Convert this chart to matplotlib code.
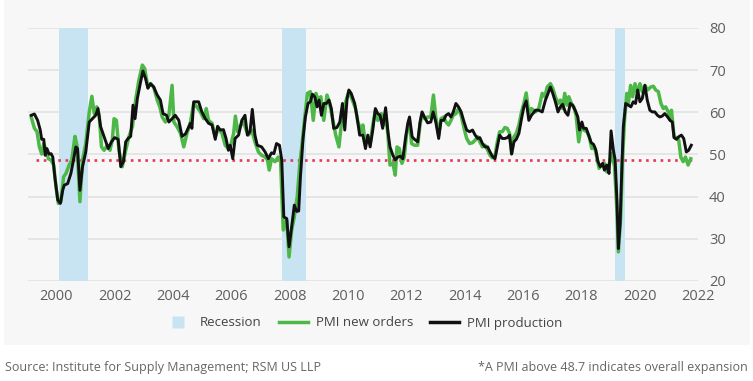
import matplotlib
matplotlib.use('Agg')
from matplotlib import pyplot as plt
from matplotlib.lines import Line2D
from matplotlib.patches import Rectangle

plt.rcParams['font.family'] = ['Open Sans', 'DejaVu Sans']

# values (decimal year, index value)
orders_year = [
    1999.14, 1999.25, 1999.34, 1999.42, 1999.50, 1999.57, 1999.65, 1999.73, 1999.82, 1999.91,
    1999.99, 2000.07, 2000.16, 2000.25, 2000.33, 2000.44, 2000.53, 2000.64, 2000.71, 2000.81,
    2000.90, 2001.01, 2001.13, 2001.22, 2001.30, 2001.39, 2001.47, 2001.55, 2001.64, 2001.75,
    2001.84, 2001.92, 2001.98, 2002.06, 2002.15, 2002.26, 2002.38, 2002.49, 2002.61, 2002.72,
    2002.83, 2002.95, 2003.03, 2003.14, 2003.23, 2003.34, 2003.46, 2003.55, 2003.63, 2003.74,
    2003.86, 2003.97, 2004.03, 2004.14, 2004.26, 2004.37, 2004.48, 2004.60,
    2004.71, 2004.82, 2004.94, 2005.05, 2005.14, 2005.22, 2005.34, 2005.45, 2005.56, 2005.68,
    2005.79, 2005.90, 2005.98, 2006.08, 2006.14, 2006.22, 2006.33, 2006.42, 2006.51, 2006.59,
    2006.70, 2006.81, 2006.93, 2007.04, 2007.16, 2007.24, 2007.30, 2007.38, 2007.50, 2007.61,
    2007.69, 2007.78, 2007.90, 2007.98, 2008.07, 2008.16, 2008.26, 2008.35, 2008.44, 2008.52,
    2008.61, 2008.71, 2008.81, 2008.90, 2008.98, 2009.07, 2009.17, 2009.28, 2009.37, 2009.47,
    2009.58, 2009.69, 2009.77, 2009.85, 2009.94, 2010.03, 2010.15, 2010.26, 2010.34, 2010.46,
    2010.51, 2010.60, 2010.68, 2010.76, 2010.85, 2010.94, 2011.02, 2011.14, 2011.22, 2011.29,
    2011.37, 2011.44, 2011.54, 2011.62, 2011.68, 2011.76, 2011.85, 2011.93, 2012.01, 2012.11,
    2012.18, 2012.28, 2012.39, 2012.47, 2012.54, 2012.63, 2012.73, 2012.84, 2012.93, 2013.01,
    2013.11, 2013.19, 2013.28, 2013.36, 2013.45, 2013.53, 2013.61, 2013.70, 2013.79, 2013.88,
    2013.98, 2014.07, 2014.17, 2014.27, 2014.36, 2014.45, 2014.52, 2014.61, 2014.70, 2014.79,
    2014.87, 2014.95, 2015.04, 2015.12, 2015.20, 2015.29, 2015.38, 2015.46, 2015.54, 2015.61,
    2015.69, 2015.77, 2015.86, 2015.95, 2016.03, 2016.11, 2016.20, 2016.29,
    2016.43, 2016.54, 2016.66, 2016.75, 2016.83, 2016.94, 2017.02, 2017.11, 2017.20, 2017.28,
    2017.36, 2017.43, 2017.51, 2017.57, 2017.66, 2017.74, 2017.82, 2017.91, 2018.00, 2018.08,
    2018.19, 2018.27, 2018.36, 2018.45, 2018.53, 2018.61, 2018.70, 2018.79, 2018.87, 2018.95,
    2019.04, 2019.14, 2019.22, 2019.27, 2019.35, 2019.41, 2019.48, 2019.56, 2019.61, 2019.69,
    2019.76, 2019.84, 2019.93, 2020.01, 2020.09, 2020.18, 2020.27, 2020.38, 2020.47, 2020.55,
    2020.64, 2020.73, 2020.81, 2020.89, 2020.98, 2021.05, 2021.09, 2021.18, 2021.26, 2021.34,
    2021.41, 2021.49, 2021.57, 2021.66, 2021.75,
]
new_orders = [
    58.9, 56.2, 55.4, 51.8, 50.1, 52.6, 51.0, 49.0, 48.7, 47.5,
    42.3, 38.4, 38.8, 44.7, 45.5, 47.5, 48.7, 54.3, 52.2, 38.8,
    48.7, 52.6, 60.1, 63.8, 59.7, 61.3, 59.3, 51.8, 51.0, 52.2,
    51.0, 53.4, 58.5, 58.1, 51.0, 47.1, 51.0, 54.2, 56.6, 62.9,
    67.6, 71.2, 70.4, 66.0, 66.8, 66.0, 62.9, 61.3, 58.9, 57.7,
    59.3, 66.4, 57.7, 56.6, 55.0, 51.8, 55.0, 57.7,
    62.1, 61.3, 60.1, 58.5, 60.9, 58.1, 57.4, 54.2, 56.2, 55.0,
    52.2, 51.4, 52.2, 55.0, 59.1, 55.4, 57.0, 57.7, 55.8, 54.6,
    55.8, 53.0, 50.6, 49.8, 49.4, 48.7, 46.3, 49.0, 48.3, 49.4,
    48.3, 32.1, 34.4, 25.7, 32.1, 35.2, 40.0, 47.9, 53.4, 58.9,
    64.5, 64.9, 58.1, 64.5, 62.9, 63.7, 58.1, 64.1, 62.1, 58.5,
    54.6, 51.8, 57.0, 60.9, 62.9, 64.9, 62.9, 60.9, 57.7, 55.4,
    57.0, 52.6, 54.2, 52.6, 57.0, 60.5, 58.1, 59.7, 57.0, 59.7,
    54.6, 47.5, 47.9, 45.1, 51.8, 51.4, 47.9, 49.4, 55.0, 57.7,
    52.6, 52.2, 52.2, 57.0, 59.7, 58.5, 58.9, 58.9, 64.1, 58.9,
    54.6, 58.5, 58.9, 57.7, 57.0, 58.1, 59.3, 59.7, 60.9, 59.3,
    56.2, 53.8, 52.6, 52.8, 53.4, 54.2, 53.0, 51.8, 52.2, 51.0,
    49.8, 49.2, 49.6, 53.0, 55.4, 55.4, 56.4, 56.2, 55.0, 50.2,
    54.2, 55.0, 57.0, 60.1, 62.1, 64.6, 59.7, 60.9,
    60.1, 60.9, 64.5, 63.7, 66.0, 66.8, 65.7, 63.7, 62.1, 62.9,
    60.9, 64.5, 61.7, 63.7, 62.1, 61.3, 59.3, 53.0, 57.0, 55.8,
    55.4, 54.2, 51.4, 51.8, 49.4, 46.7, 47.5, 47.9, 45.9, 47.5,
    50.2, 47.1, 36.8, 26.9, 35.2, 48.7, 58.1, 64.5, 62.1, 66.4,
    63.7, 66.8, 64.5, 66.8, 64.9, 66.4, 65.3, 66.0, 66.2, 65.3,
    64.9, 62.1, 60.9, 61.3, 60.1, 58.1, 60.5, 54.2, 54.0, 53.4,
    49.4, 48.3, 49.4, 47.5, 49.0,
]

production_year = [
    1999.14, 1999.25, 1999.36, 1999.45, 1999.50, 1999.57, 1999.62, 1999.68, 1999.75, 1999.82,
    1999.88, 1999.95, 2000.05, 2000.14, 2000.22, 2000.27, 2000.39, 2000.50, 2000.59, 2000.67,
    2000.73, 2000.81, 2000.90, 2001.01, 2001.13, 2001.24, 2001.35, 2001.43, 2001.52, 2001.64,
    2001.78, 2001.89, 2002.00, 2002.12, 2002.21, 2002.30, 2002.38, 2002.46, 2002.55, 2002.63,
    2002.70, 2002.78, 2002.89, 2002.97, 2003.06, 2003.14, 2003.23, 2003.34, 2003.46, 2003.57,
    2003.66, 2003.78, 2003.86, 2003.97, 2004.08, 2004.20, 2004.31, 2004.43, 2004.52, 2004.60,
    2004.65,
    2004.71, 2004.88, 2004.99, 2005.11, 2005.22, 2005.34, 2005.45, 2005.53, 2005.62, 2005.73,
    2005.82, 2005.90, 2005.96, 2006.05, 2006.13, 2006.25, 2006.36, 2006.47, 2006.55, 2006.64,
    2006.72, 2006.81, 2006.89, 2007.04, 2007.16, 2007.27, 2007.38, 2007.46, 2007.55, 2007.65,
    2007.73, 2007.80, 2007.90, 2007.98, 2008.07, 2008.16, 2008.24, 2008.31, 2008.37, 2008.46,
    2008.54, 2008.63, 2008.71, 2008.78, 2008.86, 2008.94, 2009.01, 2009.09, 2009.17, 2009.26,
    2009.35, 2009.43, 2009.51, 2009.62, 2009.72, 2009.81, 2009.89, 2009.97, 2010.03, 2010.11,
    2010.23, 2010.31, 2010.40,
    2010.51, 2010.60, 2010.68, 2010.76, 2010.85, 2010.94, 2011.02, 2011.10, 2011.19, 2011.29,
    2011.37, 2011.44, 2011.54, 2011.62, 2011.71, 2011.79, 2011.88, 2011.97, 2012.05, 2012.11,
    2012.20, 2012.28, 2012.39, 2012.47, 2012.54, 2012.62, 2012.73, 2012.84, 2012.92, 2013.01,
    2013.11, 2013.19, 2013.28, 2013.36, 2013.45, 2013.53, 2013.61, 2013.70, 2013.79, 2013.88,
    2013.98, 2014.07, 2014.17, 2014.27, 2014.36, 2014.45, 2014.52, 2014.61, 2014.70, 2014.79,
    2014.87, 2014.95, 2015.04, 2015.12, 2015.20, 2015.29, 2015.38, 2015.46, 2015.54, 2015.61,
    2015.69, 2015.77, 2015.86, 2015.95, 2016.03, 2016.11, 2016.20, 2016.29,
    2016.43, 2016.54, 2016.66, 2016.77, 2016.86, 2016.94, 2017.02, 2017.11, 2017.20, 2017.28,
    2017.36, 2017.45, 2017.54, 2017.62, 2017.70, 2017.79, 2017.88, 2017.94, 2018.02, 2018.08,
    2018.17, 2018.25, 2018.34, 2018.42, 2018.50, 2018.57, 2018.65, 2018.73, 2018.79, 2018.87,
    2018.95, 2019.02, 2019.10, 2019.16, 2019.22, 2019.27, 2019.33, 2019.39, 2019.44, 2019.52,
    2019.61, 2019.70, 2019.78, 2019.86, 2019.93, 2020.01, 2020.09, 2020.18, 2020.26, 2020.35,
    2020.43, 2020.52, 2020.61, 2020.69, 2020.77, 2020.86, 2020.96, 2021.04, 2021.12, 2021.18,
    2021.26, 2021.34, 2021.43, 2021.51, 2021.60, 2021.68, 2021.77,
]
production = [
    59.3, 59.6, 58.1, 55.8, 53.6, 53.6, 49.8, 51.4, 50.1, 50.2,
    49.4, 44.7, 39.2, 38.4, 41.5, 42.7, 43.1, 45.5, 48.7, 51.8,
    51.4, 41.5, 47.1, 50.6, 57.7, 58.5, 59.3, 60.9, 56.6, 54.2,
    51.4, 53.0, 54.0, 53.6, 47.1, 48.3, 53.0, 53.8, 54.3, 61.7,
    58.5, 63.3, 67.2, 69.8, 68.0, 65.7, 66.8, 66.0, 64.1, 62.9,
    59.7, 59.3, 57.7, 58.5, 59.3, 58.1, 54.3, 54.9, 56.2, 57.4,
    56.2,
    62.5, 62.5, 60.1, 58.5, 57.4, 57.0, 53.6, 56.7, 55.8, 55.9,
    53.8, 51.0, 52.2, 49.0, 53.8, 54.6, 58.1, 59.3, 54.6, 55.4,
    60.7, 54.6, 52.2, 51.8, 50.6, 49.0, 50.4, 50.2, 52.6, 52.2,
    48.7, 35.2, 34.8, 28.1, 32.9, 38.0, 36.5, 36.6, 44.7, 53.8,
    58.9, 62.1, 62.5, 64.3, 63.7, 61.3, 62.9, 59.3, 62.1, 62.1,
    62.9, 60.9, 56.2, 56.4, 57.7, 62.1, 55.8, 63.3, 65.3, 64.5,
    62.1, 58.9, 54.6,
    54.6, 51.4, 54.6, 51.8, 55.8, 60.9, 59.7, 59.3, 56.2, 61.1,
    55.4, 51.8, 49.8, 48.7, 49.4, 49.6, 49.0, 53.8, 57.4, 58.9,
    54.2, 53.6, 53.0, 57.7, 60.1, 58.9, 57.5, 57.7, 60.1, 57.7,
    53.8, 58.1, 58.1, 59.3, 59.7, 58.9, 60.1, 62.1, 61.3, 60.1,
    57.7, 55.8, 55.4, 55.8, 54.6, 53.8, 54.0, 52.6, 51.8, 51.8,
    50.6, 49.6, 49.0, 51.8, 54.6, 53.8, 53.8, 54.0, 54.6, 50.1,
    53.0, 53.6, 55.0, 58.5, 61.3, 62.7, 58.1, 59.3,
    60.5, 60.5, 60.1, 62.9, 64.5, 66.0, 64.5, 62.5, 60.1, 61.3,
    61.9, 60.1, 59.3, 62.1, 61.7, 60.5, 58.9, 55.8, 57.7, 56.2,
    56.2, 54.6, 52.8, 52.4, 51.0, 48.3, 47.1, 47.9, 46.3, 47.5,
    45.5, 55.6, 51.0, 48.7, 39.2, 27.7, 33.6, 47.1, 56.6, 62.1,
    61.7, 61.3, 62.5, 62.1, 65.3, 62.5, 63.3, 66.4, 62.9, 60.5,
    60.1, 60.1, 59.3, 58.9, 59.1, 59.7, 58.9, 58.1, 57.7, 54.0,
    53.6, 54.2, 54.6, 53.8, 50.6, 51.0, 52.2,
]

recessions = [(2000.10, 2001.10), (2007.75, 2008.57), (2019.15, 2019.49)]
expansion_level = 48.7
year_ticks = list(range(2000, 2023, 2))
value_ticks = [20, 30, 40, 50, 60, 70, 80]

panel = '#f7f7f7'
green = '#4db848'
blue = '#c8e4f3'

fig = plt.figure(figsize=(7.53, 3.81), dpi=100, facecolor='white')
bg = Rectangle((4 / 753, 1 - 345 / 381), 746 / 753, 345 / 381,
               transform=fig.transFigure, facecolor=panel,
               edgecolor='none', zorder=-10)
fig.patches.append(bg)
ax = fig.add_axes([28 / 753, 1 - 281 / 381, 670 / 753, 253 / 381])
ax.set_facecolor(panel)
ax.set_zorder(1)

for start, end in recessions:
    ax.axvspan(start, end, color=blue, lw=0, zorder=1)

for v in value_ticks:
    ax.axhline(v, color='#e0e0e0', lw=1.1, zorder=0.5)

# threshold line, dotted
ax.plot([1999.3, 2021.9], [expansion_level, expansion_level], color='#e8355a',
        lw=1.9, linestyle=(0, (1, 1.75)), zorder=2)
ax.plot(orders_year, new_orders, color=green, lw=2.5, zorder=3,
        solid_joinstyle='round')
ax.plot(production_year, production, color='#111111', lw=2.1, zorder=4,
        solid_joinstyle='round')

ax.set_xlim(1999.03, 2021.92)
ax.set_ylim(20, 80)
ax.set_xticks(year_ticks)
ax.set_yticks(value_ticks)
ax.yaxis.tick_right()
ax.tick_params(axis='both', length=0, labelsize=10.5, labelcolor='#5e5e5e')
ax.tick_params(axis='y', pad=8)
ax.tick_params(axis='x', pad=6)
for s in ax.spines.values():
    s.set_visible(False)

handles = [
    Line2D([], [], marker='s', linestyle='none', markersize=8.5,
           markerfacecolor=blue, markeredgecolor='none'),
    Line2D([], [], color=green, lw=2.5),
    Line2D([], [], color='#111111', lw=2.5),
]
fig.legend(handles, ['Recession', 'PMI new orders', 'PMI production'],
           loc='center', bbox_to_anchor=(0.482, 1 - 323 / 381), ncol=3,
           frameon=False, fontsize=9.5, labelcolor='#444444',
           handlelength=2.2, handletextpad=0.6, columnspacing=1.3)

fig.text(5 / 753, 1 - 368 / 381, 'Source: Institute for Supply Management; RSM US LLP',
         ha='left', va='center', fontsize=9, color='#666666')
fig.text(748 / 753, 1 - 368 / 381, '*A PMI above 48.7 indicates overall expansion',
         ha='right', va='center', fontsize=9, color='#666666')

fig.savefig('out.png', dpi=100, facecolor='white')
